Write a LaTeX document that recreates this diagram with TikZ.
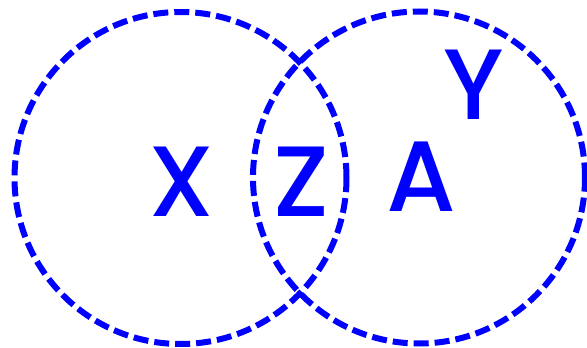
\documentclass[tikz,border=0pt]{standalone}
\usepackage{fontspec}
\setmainfont{Poppins}[UprightFont=* Medium]
\begin{document}
\begin{tikzpicture}[x=1pt,y=-1pt,
  ring/.style={draw=blue, line width=6pt, dash pattern=on 15pt off 6pt},
  lbl/.style={text=blue, inner sep=0pt, font=\fontsize{100}{100}\selectfont}]
\useasboundingbox (0,0) rectangle (587,348);
\node[ring, circle, minimum size=332pt, inner sep=0pt] (left) at (180.5,178) {};
\node[ring, circle, minimum size=332pt, inner sep=0pt] (right) at (419,177.5) {};
\node[lbl] (x) at (181,182) {X};
\node[lbl] (z) at (301,182) {Z};
\node[lbl] (a) at (421,177) {A};
\node[lbl] (y) at (474,85) {Y};
\end{tikzpicture}
\end{document}
